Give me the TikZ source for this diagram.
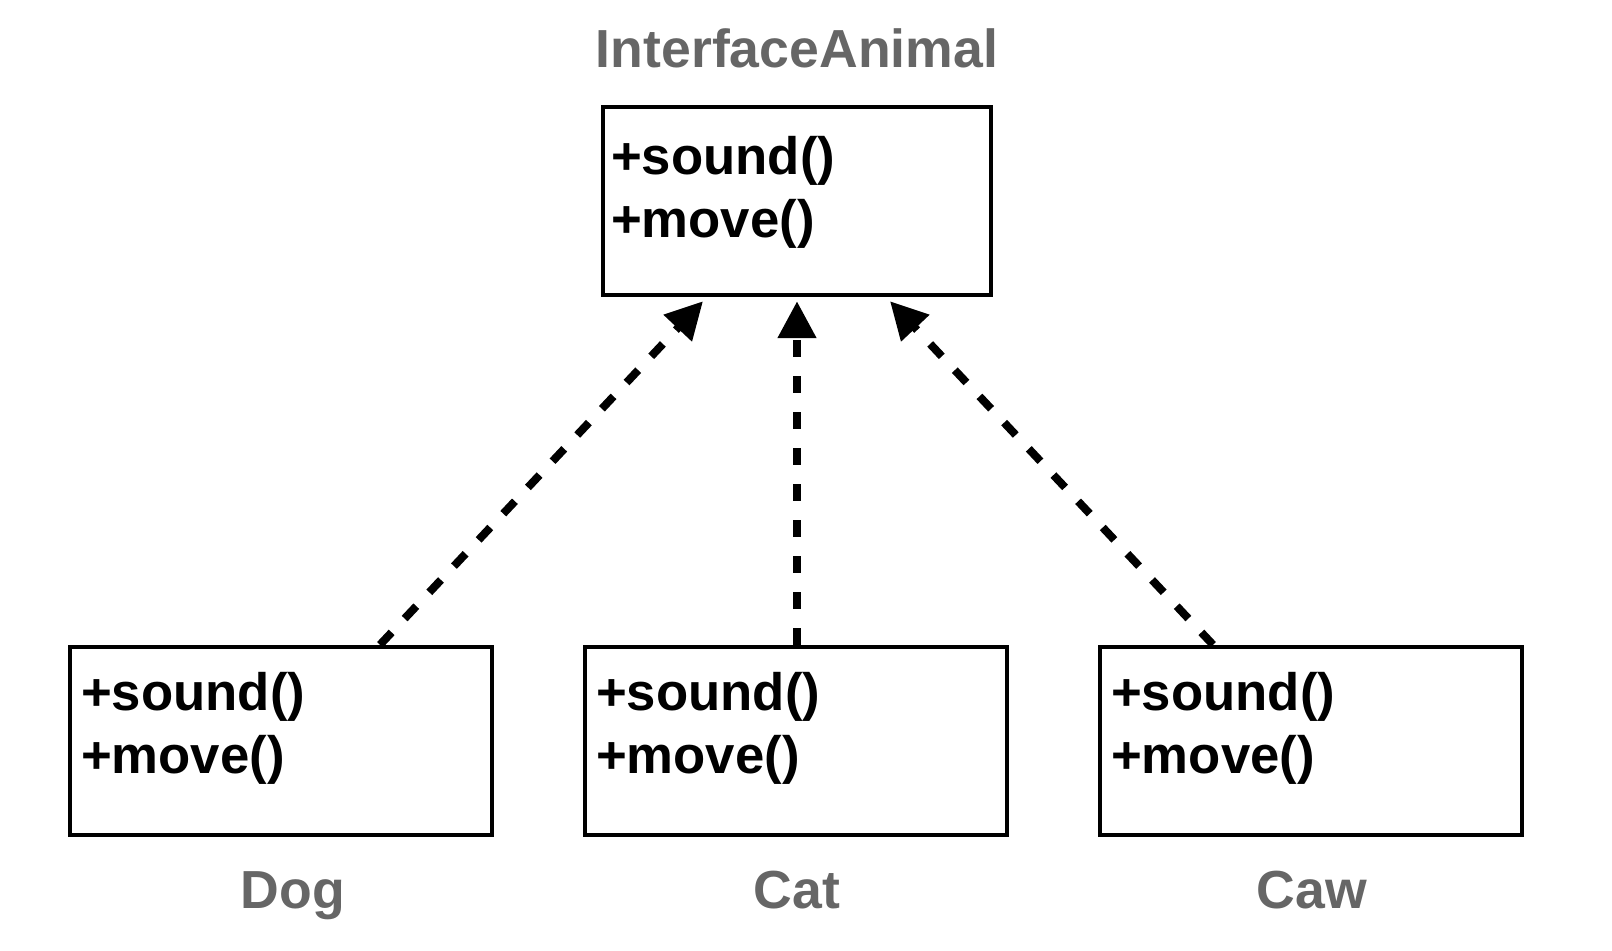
\documentclass[tikz,border=0pt]{standalone}
\usepackage{fontspec}
\setmainfont{Liberation Sans}
\usetikzlibrary{arrows.meta}
\definecolor{labelgray}{HTML}{666666}

\begin{document}
\begin{tikzpicture}[
  x=0.02cm, y=-0.02cm,
  cls/.style={draw, line width=0.09cm, minimum width=8.44cm, minimum height=3.76cm, inner sep=0pt},
  members/.style={anchor=base west, align=left, inner sep=0pt, font=\fontsize{30}{36}\selectfont\bfseries},
  title/.style={anchor=base, inner sep=0pt, text=labelgray, font=\fontsize{30.5}{36}\selectfont\bfseries},
  realize/.style={draw, line width=0.16cm, dash pattern=on 0.34cm off 0.38cm, -{Triangle[length=0.74cm, width=0.74cm]}},
]
\useasboundingbox (0,0) rectangle (1612,950);
% Interface on top
\node[cls, minimum width=7.76cm] (animal) at (797,201) {};
\node[members] (animal-m) at ([shift={(10,133)}]animal.north west) {+sound()\\+move()};
\node[title] (animal-t) at (797,67) {InterfaceAnimal};
% Classes below
\node[cls] (dog) at (281,741) {};
\node[cls] (cat) at (796,741) {};
\node[cls] (caw) at (1311,741) {};
\node[members] (dog-m) at ([shift={(13,129)}]dog.north west) {+sound()\\+move()};
\node[members] (cat-m) at ([shift={(13,129)}]cat.north west) {+sound()\\+move()};
\node[members] (caw-m) at ([shift={(13,129)}]caw.north west) {+sound()\\+move()};
\node[title] (dog-t) at (293,908) {Dog};
\node[title] (cat-t) at (797,908) {Cat};
\node[title] (caw-t) at (1312,908) {Caw};
% Realizations
\draw[realize] ([shift={(99,0)}]dog.north) -- ([shift={(-94,4)}]animal.south);
\draw[realize] ([shift={(1,0)}]cat.north) -- ([shift={(0,4)}]animal.south);
\draw[realize] ([shift={(-98,0)}]caw.north) -- ([shift={(93,4)}]animal.south);
\end{tikzpicture}
\end{document}
